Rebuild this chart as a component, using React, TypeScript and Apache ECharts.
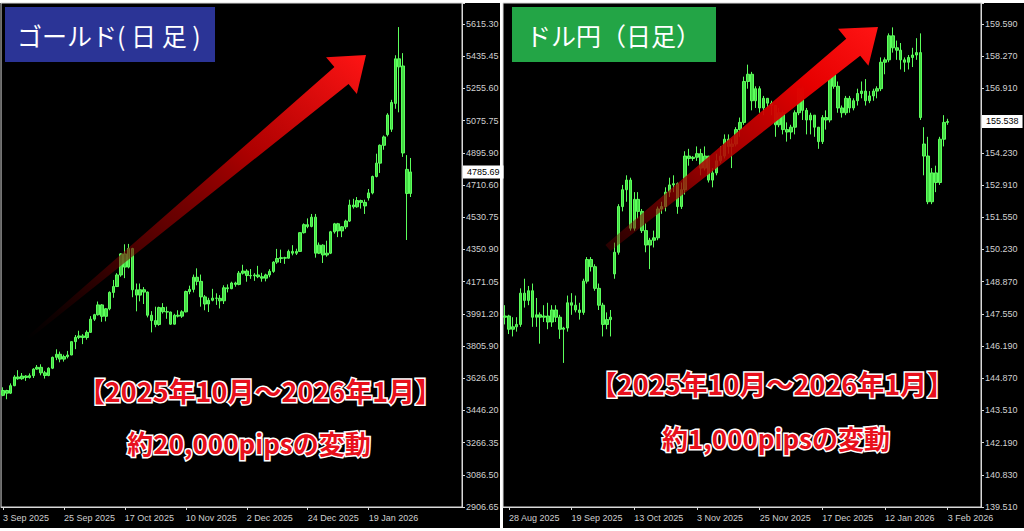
import React, { useEffect, useRef } from 'react';
import * as echarts from 'echarts';

// ---------- data ----------
const MONTHS = ['Jan', 'Feb', 'Mar', 'Apr', 'May', 'Jun', 'Jul', 'Aug', 'Sep', 'Oct', 'Nov', 'Dec'];
const holidays = ['25 Dec 2025', '1 Jan 2026'];
const usdExtraDays = ['2 Nov 2025'];

const goldXTicks = ['3 Sep 2025', '25 Sep 2025', '17 Oct 2025', '10 Nov 2025', '2 Dec 2025', '24 Dec 2025', '19 Jan 2026'];
const usdXTicks = ['28 Aug 2025', '19 Sep 2025', '13 Oct 2025', '3 Nov 2025', '25 Nov 2025', '17 Dec 2025', '12 Jan 2026', '3 Feb 2026'];

const goldYLabels = ['2906.65', '3086.50', '3266.35', '3446.20', '3626.05', '3805.90', '3991.20', '4171.05', '4350.90', '4530.75', '4710.60', '4895.90', '5075.75', '5255.60', '5435.45', '5615.30'];
const usdYLabels = ['139.510', '140.830', '142.190', '143.510', '144.870', '146.190', '147.550', '148.870', '150.230', '151.550', '152.910', '154.230', '', '156.910', '158.270', '159.590'];

const goldLast = 4785.69;
const usdLast = 155.538;

// [open, close, low, high] — 3 Sep 2025 .. 3 Feb 2026
const goldOHLC = [
  [3533, 3560, 3528, 3578], [3560, 3545, 3511, 3564], [3545, 3587, 3540, 3600], [3587, 3636, 3584, 3646],
  [3636, 3626, 3620, 3674], [3626, 3641, 3620, 3658], [3641, 3633, 3614, 3646], [3633, 3643, 3627, 3656],
  [3643, 3680, 3630, 3685], [3680, 3690, 3676, 3703], [3690, 3659, 3645, 3707], [3659, 3644, 3627, 3670],
  [3644, 3685, 3640, 3690], [3685, 3746, 3680, 3750], [3746, 3763, 3730, 3791], [3763, 3736, 3718, 3778],
  [3736, 3750, 3722, 3761], [3750, 3759, 3740, 3782], [3759, 3834, 3758, 3835], [3834, 3858, 3792, 3871],
  [3858, 3866, 3848, 3895], [3866, 3857, 3820, 3876], [3857, 3886, 3845, 3897], [3886, 3960, 3884, 3977],
  [3960, 3985, 3950, 3990], [3985, 4040, 3980, 4059], [4040, 3976, 3945, 4045], [3976, 4018, 3948, 4022],
  [4018, 4110, 4010, 4116], [4110, 4143, 4080, 4180], [4143, 4208, 4140, 4218], [4208, 4326, 4198, 4330],
  [4326, 4252, 4190, 4380], [4252, 4356, 4245, 4382], [4356, 4125, 4083, 4360], [4125, 4095, 4004, 4160],
  [4095, 4125, 4060, 4160], [4125, 4112, 4045, 4140], [4112, 3982, 3970, 4115], [3982, 3952, 3886, 4005],
  [3952, 3930, 3915, 4030], [3930, 4025, 3923, 4030], [4025, 4002, 3992, 4050], [4002, 4000, 3962, 4030],
  [4000, 3932, 3928, 4002], [3932, 3982, 3930, 3990], [3982, 3977, 3970, 4010], [3977, 4001, 3967, 4010],
  [4001, 4115, 3998, 4120], [4115, 4127, 4100, 4148], [4127, 4195, 4110, 4210], [4195, 4172, 4150, 4245],
  [4172, 4085, 4030, 4210], [4085, 4045, 4010, 4095], [4045, 4066, 4000, 4080], [4066, 4078, 4060, 4130],
  [4078, 4077, 4040, 4105], [4077, 4063, 4020, 4095], [4063, 4136, 4045, 4150], [4136, 4131, 4110, 4155],
  [4131, 4163, 4128, 4170], [4163, 4155, 4142, 4170], [4155, 4218, 4150, 4230], [4218, 4230, 4210, 4265],
  [4230, 4205, 4170, 4240], [4205, 4203, 4186, 4241], [4203, 4208, 4175, 4218], [4208, 4198, 4190, 4259],
  [4198, 4190, 4170, 4220], [4190, 4208, 4172, 4215], [4208, 4228, 4195, 4240], [4228, 4280, 4220, 4285],
  [4280, 4300, 4270, 4354], [4300, 4305, 4275, 4350], [4305, 4302, 4270, 4310], [4302, 4340, 4300, 4350],
  [4340, 4330, 4318, 4375], [4330, 4340, 4320, 4355], [4340, 4445, 4338, 4448], [4445, 4490, 4440, 4497],
  [4490, 4480, 4470, 4525], [4480, 4532, 4475, 4550], [4532, 4330, 4305, 4550], [4330, 4375, 4325, 4390],
  [4375, 4320, 4275, 4380], [4320, 4330, 4310, 4400], [4330, 4450, 4325, 4455], [4450, 4495, 4440, 4500],
  [4495, 4455, 4420, 4500], [4455, 4478, 4420, 4482], [4478, 4510, 4465, 4518], [4510, 4600, 4505, 4630],
  [4600, 4590, 4580, 4635], [4590, 4625, 4585, 4645], [4625, 4615, 4580, 4630], [4615, 4595, 4550, 4630],
  [4640, 4668, 4625, 4690], [4668, 4760, 4660, 4765], [4760, 4835, 4755, 4888], [4835, 4935, 4780, 4940],
  [4935, 4982, 4910, 4990], [4995, 5105, 4985, 5115], [5025, 5175, 5010, 5190], [5170, 5420, 5140, 5440],
  [5420, 5375, 5120, 5598], [5380, 4892, 4870, 5452], [4800, 4665, 4404, 4880], [4665, 4785.69, 4645, 4864],
];

// [open, close, low, high] — 27 Aug 2025 .. 3 Feb 2026
const usdOHLC = [
  [147.4, 147.45, 147.1, 147.9], [147.45, 146.9, 146.7, 147.5], [146.9, 147.0, 146.6, 147.4], [147.0, 147.1, 146.8, 147.4],
  [147.1, 148.4, 147.0, 148.6], [148.4, 148.1, 147.8, 149.0], [148.1, 148.5, 147.9, 148.7], [148.5, 147.4, 147.0, 148.8],
  [147.4, 147.5, 147.0, 148.2], [147.5, 147.4, 146.3, 147.6], [147.4, 147.45, 147.2, 147.9], [147.45, 147.2, 146.9, 148.0],
  [147.2, 147.7, 147.0, 147.9], [147.7, 147.4, 147.2, 147.9], [147.4, 146.9, 146.5, 147.5], [146.9, 146.95, 145.5, 147.0],
  [146.95, 148.0, 146.8, 148.3], [148.0, 147.9, 147.5, 148.4], [147.9, 147.7, 147.6, 148.3], [147.7, 147.6, 147.3, 148.0],
  [147.6, 148.9, 147.5, 149.0], [148.9, 149.8, 148.8, 149.9], [149.8, 149.5, 149.3, 149.9], [149.5, 148.6, 148.5, 149.6],
  [148.6, 147.9, 147.7, 148.8], [147.9, 147.1, 146.6, 148.0], [147.1, 147.3, 146.9, 147.6], [147.3, 147.4, 146.6, 147.7],
  [149.2, 150.1, 149.0, 150.5], [150.1, 152.0, 150.0, 152.1], [152.0, 152.7, 151.8, 152.9], [152.7, 153.1, 152.2, 153.3],
  [153.1, 151.1, 151.0, 153.2], [151.1, 152.3, 151.0, 152.6], [152.3, 151.8, 151.5, 152.6], [151.8, 151.0, 150.9, 151.9],
  [151.0, 150.4, 150.1, 151.3], [150.4, 150.6, 149.4, 150.7], [150.6, 150.7, 150.3, 151.0], [150.7, 151.9, 150.6, 152.0],
  [151.9, 152.0, 151.7, 152.2], [152.0, 152.6, 151.8, 152.8], [152.6, 152.9, 152.4, 153.2], [152.9, 152.95, 152.6, 153.3],
  [152.95, 152.0, 151.7, 153.0], [152.0, 152.7, 151.9, 153.0], [152.7, 154.1, 152.5, 154.3], [154.1, 154.0, 153.7, 154.4],
  [154.0, 154.05, 153.9, 154.1], [154.05, 154.2, 153.9, 154.5], [154.2, 153.6, 153.3, 154.4], [153.6, 154.1, 153.5, 154.5],
  [154.1, 153.1, 153.0, 154.1], [153.1, 153.4, 152.8, 153.6], [153.4, 153.9, 153.3, 154.2], [153.9, 154.1, 153.8, 154.5],
  [154.1, 154.8, 154.0, 155.0], [154.8, 154.5, 154.2, 155.0], [154.5, 154.6, 153.6, 154.8], [154.6, 155.2, 154.5, 155.3],
  [155.2, 155.5, 154.9, 155.7], [155.5, 157.2, 155.4, 157.4], [157.2, 157.5, 156.9, 157.9], [157.5, 156.4, 156.0, 157.6],
  [156.4, 156.9, 156.1, 157.0], [156.9, 156.1, 155.9, 157.0], [156.1, 156.5, 155.8, 156.6], [156.5, 156.3, 156.1, 156.5],
  [156.3, 156.2, 155.8, 156.4], [156.2, 155.4, 154.9, 156.2], [155.4, 155.9, 155.3, 156.1], [155.9, 155.2, 155.0, 156.0],
  [155.2, 155.1, 154.7, 155.5], [155.1, 155.3, 154.8, 155.4], [155.3, 155.9, 155.0, 156.0], [155.9, 156.9, 155.8, 156.9],
  [156.9, 156.0, 155.6, 157.0], [156.0, 155.6, 155.0, 156.1], [155.6, 155.8, 155.0, 155.9], [155.8, 155.3, 154.9, 155.8],
  [155.3, 154.7, 154.4, 155.3], [154.7, 155.7, 154.6, 155.8], [155.7, 155.6, 155.2, 156.0], [155.6, 157.7, 155.5, 157.8],
  [157.7, 157.0, 156.9, 157.8], [157.0, 156.1, 155.9, 157.2], [156.1, 155.9, 155.7, 156.2], [155.9, 156.5, 155.8, 156.6],
  [156.5, 156.1, 155.9, 156.6], [156.1, 156.4, 156.0, 156.5], [156.4, 156.7, 156.2, 156.9], [156.7, 156.8, 156.5, 157.2],
  [156.8, 156.4, 156.2, 157.3], [156.4, 156.6, 156.3, 156.8], [156.6, 156.8, 156.4, 156.9], [156.8, 156.9, 156.5, 157.0],
  [156.9, 158.0, 156.8, 158.2], [158.0, 158.1, 157.5, 158.2], [158.1, 159.1, 158.0, 159.2], [159.1, 158.6, 158.4, 159.45],
  [158.6, 158.5, 158.1, 158.9], [158.5, 158.1, 157.7, 158.8], [158.1, 158.0, 157.6, 158.2], [158.0, 158.2, 157.7, 158.3],
  [158.2, 158.3, 157.8, 158.6], [158.3, 158.4, 158.1, 159.0], [158.4, 155.7, 155.6, 159.2], [154.6, 154.1, 153.3, 155.3],
  [154.1, 152.2, 152.1, 154.9], [152.2, 153.4, 152.1, 153.6], [153.4, 153.0, 152.6, 153.7], [153.0, 154.8, 152.9, 154.9],
  [154.8, 155.5, 154.5, 155.8], [155.5, 155.538, 155.4, 155.65],
];

// axis ranges (fixed scale of the screenshot)
const GOLD_MIN = 2906.65, GOLD_STEP = 180.5767, GOLD_MAX = 5733.05;
const USD_MIN = 139.51, USD_STEP = 1.338667, USD_MAX = 160.463;
const GOLD_SLOTS = 121, USD_SLOTS = 122;

function tradingDays(start: number[], end: number[], skip: string[], extra: string[]): string[] {
  const out: string[] = [];
  const d = new Date(Date.UTC(start[0], start[1] - 1, start[2]));
  const e = Date.UTC(end[0], end[1] - 1, end[2]);
  while (d.getTime() <= e) {
    const label = `${d.getUTCDate()} ${MONTHS[d.getUTCMonth()]} ${d.getUTCFullYear()}`;
    const wd = d.getUTCDay();
    if ((wd !== 0 && wd !== 6 && !skip.includes(label)) || extra.includes(label)) out.push(label);
    d.setUTCDate(d.getUTCDate() + 1);
  }
  return out;
}
function pad(cats: string[], total: number): string[] {
  const out = cats.slice();
  let i = 0;
  while (out.length < total) out.push(`_${i++}`);
  return out;
}

const goldCats = pad(tradingDays([2025, 9, 3], [2026, 2, 3], holidays, []), GOLD_SLOTS);
const usdCats = pad(tradingDays([2025, 8, 27], [2026, 2, 3], holidays, usdExtraDays), USD_SLOTS);

// ---------- styles ----------
const AXIS = '#d9d9d9';
const LABEL = '#d0d0d0';
const GREEN = '#5cff5c';
const GREEN_FILL = '#45d945';
const FONT = '"Liberation Sans", Arial, sans-serif';
const JP = '"Noto Sans CJK JP", "Noto Sans", sans-serif';

function arrowPoints(tail: number[], tip: number[], headLen: number, headHalf: number, shaftHead: number, shaftTail: number) {
  const dx = tip[0] - tail[0], dy = tip[1] - tail[1];
  const len = Math.hypot(dx, dy);
  const ux = dx / len, uy = dy / len;
  const nx = -uy, ny = ux;
  const bx = tip[0] - ux * headLen, by = tip[1] - uy * headLen;
  return [
    [tail[0] + nx * shaftTail, tail[1] + ny * shaftTail],
    [bx + nx * shaftHead, by + ny * shaftHead],
    [bx + nx * headHalf, by + ny * headHalf],
    [tip[0], tip[1]],
    [bx - nx * headHalf, by - ny * headHalf],
    [bx - nx * shaftHead, by - ny * shaftHead],
    [tail[0] - nx * shaftTail, tail[1] - ny * shaftTail],
  ];
}

function xAxis(gridIndex: number, cats: string[], ticks: string[]) {
  const show = (_i: number, v: string) => ticks.includes(v);
  return {
    type: 'category', gridIndex, data: cats, boundaryGap: true,
    axisLine: { show: true, lineStyle: { color: AXIS, width: 1 } },
    axisTick: { show: true, alignWithLabel: true, interval: show, length: 3, lineStyle: { color: AXIS } },
    axisLabel: { show: true, interval: show, align: 'left', color: LABEL, fontSize: 9, fontFamily: FONT, margin: 6 },
    splitLine: { show: false },
  };
}
function yAxis(gridIndex: number, min: number, max: number, step: number, labels: string[]) {
  return {
    type: 'value', gridIndex, position: 'right', min, max, interval: step, scale: true,
    axisLine: { show: true, lineStyle: { color: AXIS, width: 1 } },
    axisTick: { show: true, length: 3, lineStyle: { color: AXIS } },
    axisLabel: {
      show: true, color: LABEL, fontSize: 9, fontFamily: FONT, margin: 4,
      formatter: (v: number) => {
        const k = Math.round((v - min) / step);
        return labels[k] !== undefined ? labels[k] : '';
      },
    },
    splitLine: { show: false },
  };
}
function candle(idx: number, data: number[][], last: number, lastText: string) {
  return {
    type: 'candlestick', xAxisIndex: idx, yAxisIndex: idx, data, barWidth: 3, clip: false,
    itemStyle: { color: GREEN_FILL, color0: GREEN_FILL, borderColor: GREEN, borderColor0: GREEN, borderWidth: 1 },
    markLine: {
      silent: true, symbol: ['none', 'none'], animation: false, z: 50,
      lineStyle: { color: 'rgba(0,0,0,0)', width: 0, type: 'solid' },
      label: {
        show: true, position: 'end', formatter: lastText, distance: 1,
        backgroundColor: '#ffffff', color: '#000000', fontSize: 9, fontFamily: FONT, padding: [2, 4, 2, 4],
      },
      data: [{ yAxis: last }],
    },
  };
}

const redText = (text: string, x: number, y: number, size: number) => ({
  type: 'text', z: 120,
  style: {
    text, x, y, align: 'center', verticalAlign: 'middle',
    fill: '#e8101c', stroke: '#ffffff', lineWidth: 3,
    fontSize: size, fontWeight: 'bold', fontFamily: JP,
  },
});

export default function App() {
  const ref = useRef<HTMLDivElement>(null);
  useEffect(() => {
    if (!ref.current) return;
    const chart = echarts.init(ref.current, undefined, { renderer: 'svg' });
    const leftGrad = new echarts.graphic.LinearGradient(0, 1, 1, 0, [
      { offset: 0, color: 'rgba(80,0,0,0)' },
      { offset: 0.3, color: 'rgba(120,0,0,0.6)' },
      { offset: 0.65, color: 'rgba(190,0,0,0.9)' },
      { offset: 1, color: 'rgba(255,20,20,1)' },
    ]);
    const rightGrad = new echarts.graphic.LinearGradient(0, 1, 1, 0, [
      { offset: 0, color: 'rgba(110,0,0,0.35)' },
      { offset: 0.35, color: 'rgba(170,0,0,0.85)' },
      { offset: 0.75, color: 'rgba(230,0,0,1)' },
      { offset: 1, color: 'rgba(255,20,20,1)' },
    ]);
    chart.setOption({
      animation: false,
      backgroundColor: 'transparent',
      grid: [
        { left: -11.46, top: 3, width: 473.46, height: 504, show: true, borderColor: AXIS, borderWidth: 1, backgroundColor: '#000' },
        { left: 503, top: 3, width: 478, height: 504, show: true, borderColor: AXIS, borderWidth: 1, backgroundColor: '#000' },
      ],
      xAxis: [xAxis(0, goldCats, goldXTicks), xAxis(1, usdCats, usdXTicks)],
      yAxis: [
        yAxis(0, GOLD_MIN, GOLD_MAX, GOLD_STEP, goldYLabels),
        yAxis(1, USD_MIN, USD_MAX, USD_STEP, usdYLabels),
      ],
      series: [
        candle(0, goldOHLC, goldLast, goldLast.toFixed(2)),
        candle(1, usdOHLC, usdLast, usdLast.toFixed(3)),
      ],
      graphic: [
        { type: 'polygon', z: 110, shape: { points: arrowPoints([28, 338], [366, 55], 32, 24, 11, 1.5) }, style: { fill: leftGrad } },
        { type: 'polygon', z: 110, shape: { points: arrowPoints([608, 248], [878, 27], 32, 24, 11, 4) }, style: { fill: rightGrad } },
        { type: 'rect', z: 115, shape: { x: 5, y: 7, width: 210, height: 55 }, style: { fill: '#2b3496' } },
        { type: 'text', z: 116, style: { text: 'ゴールド( 日 足 )', x: 17, y: 35, verticalAlign: 'middle', fill: '#ffffff', fontSize: 25, fontFamily: JP } },
        { type: 'rect', z: 115, shape: { x: 512, y: 7, width: 204, height: 55 }, style: { fill: '#23a546' } },
        { type: 'text', z: 116, style: { text: 'ドル円（日足）', x: 526, y: 35, verticalAlign: 'middle', fill: '#ffffff', fontSize: 25, fontFamily: JP } },
        redText('【2025年10月～2026年1月】', 260, 390, 27),
        redText('約20,000pipsの変動', 249, 442, 26),
        redText('【2025年10月～2026年1月】', 772, 383, 27),
        redText('約1,000pipsの変動', 776, 437, 26),
      ],
    });
    return () => chart.dispose();
  }, []);
  return (
    <div style={{ position: 'absolute', left: 0, top: 0, width: 1024, height: 531, background: '#ffffff', overflow: 'hidden' }}>
      <div style={{ position: 'absolute', left: 0, top: 3, width: 500, height: 525, background: '#000' }} />
      <div style={{ position: 'absolute', left: 503, top: 3, width: 521, height: 525, background: '#000' }} />
      <div ref={ref} style={{ position: 'absolute', left: 0, top: 0, width: 1024, height: 531 }} />
    </div>
  );
}
